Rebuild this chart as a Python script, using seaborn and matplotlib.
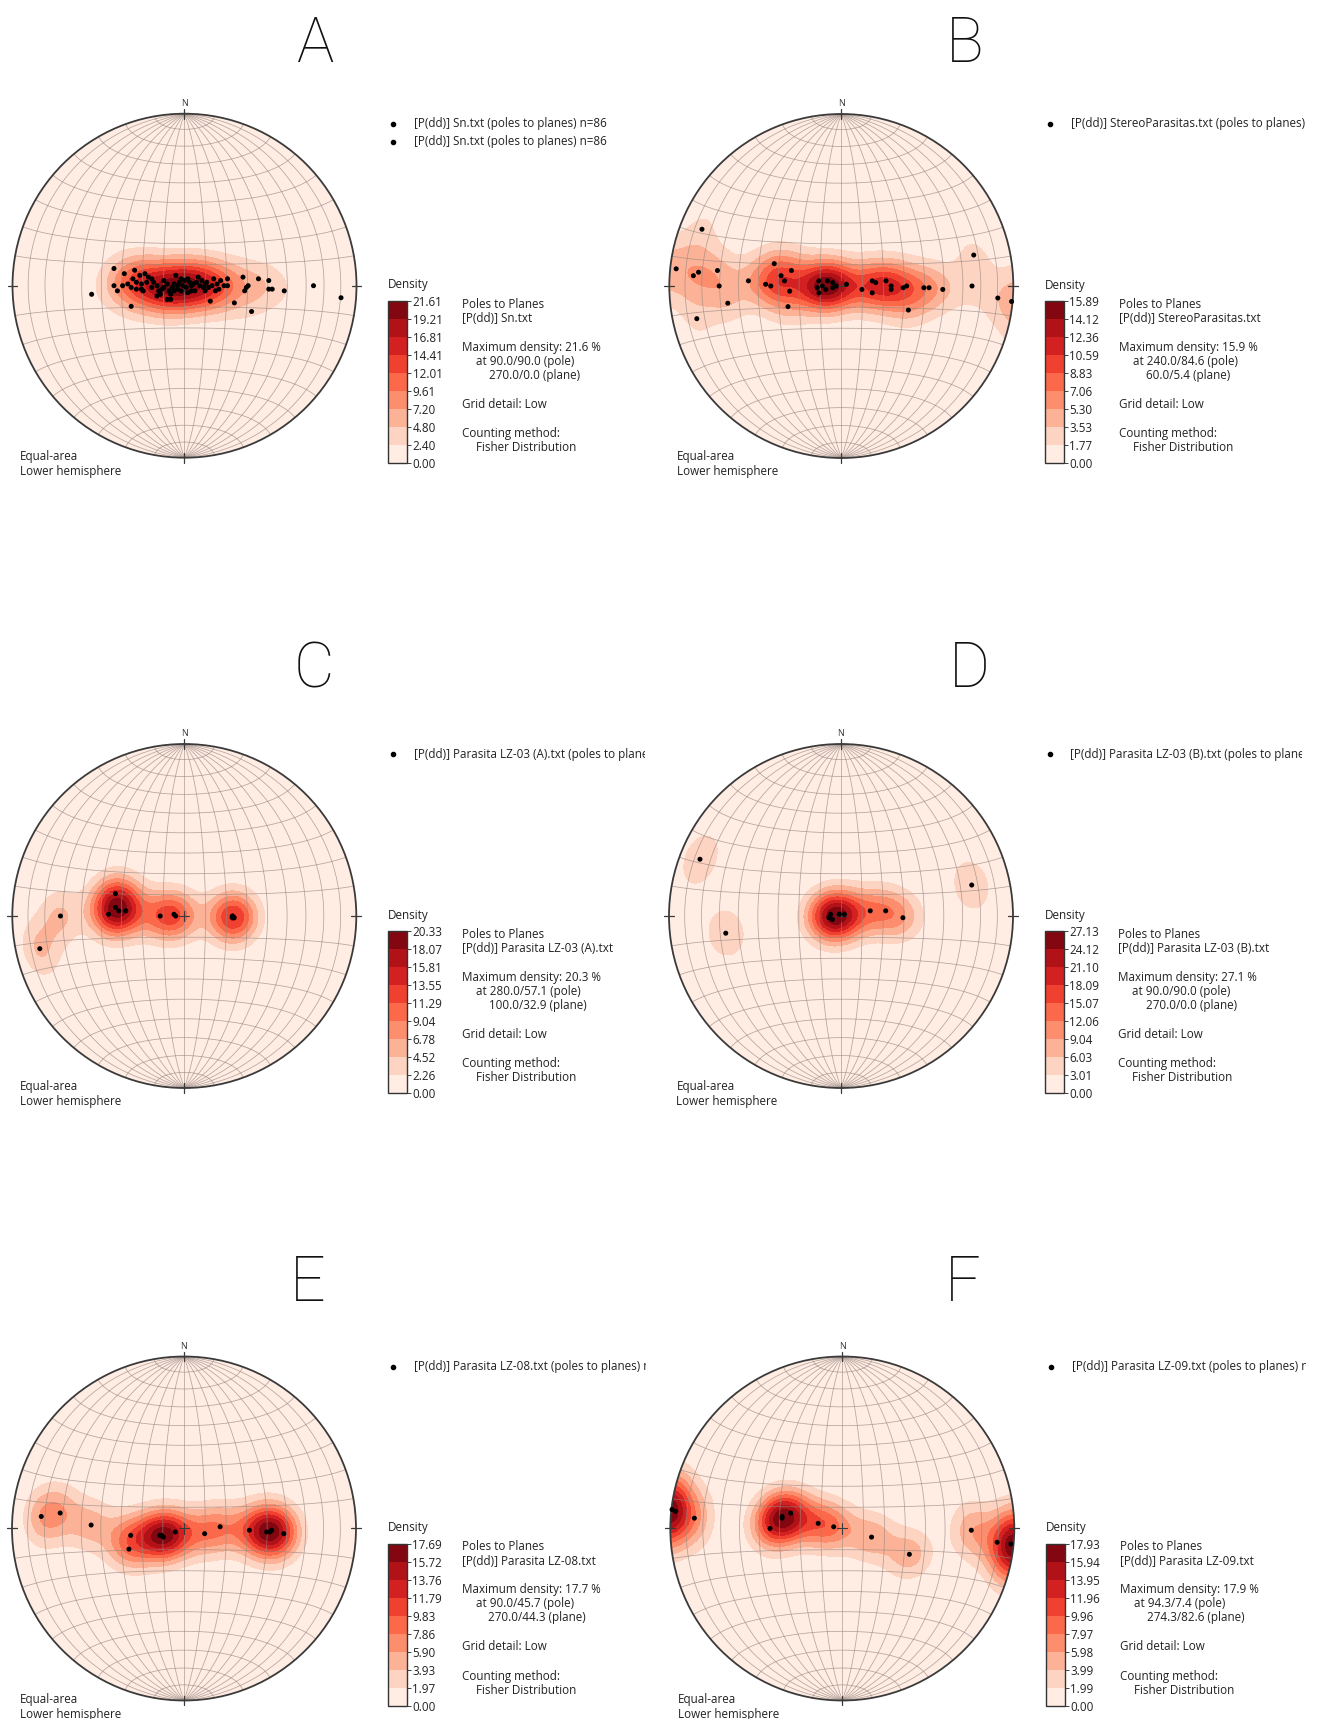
import numpy as np
import matplotlib
matplotlib.use("Agg")
import matplotlib.pyplot as plt
from matplotlib.patches import Circle
from matplotlib.lines import Line2D
from matplotlib.transforms import Bbox, TransformedBbox
import seaborn as sns
import pandas as pd

sns.set_theme(style="white")
plt.rcParams['font.family'] = ['Open Sans', 'DejaVu Sans']

W, H = 1318, 1719

# ---------------- data: projected pole positions (equal-area net, radius units) ----------------
a_east = [-0.41, -0.54, -0.31, -0.41, -0.39, -0.35, -0.36, -0.33, -0.31, -0.29, -0.30, -0.28, -0.25, -0.25,
          -0.23, -0.21, -0.19, -0.19, -0.16, -0.15, -0.13, -0.12, -0.10, -0.08, -0.09, -0.07, -0.06, -0.05,
          -0.04, -0.03, -0.02, 0.00, 0.01, 0.02, 0.03, 0.04, 0.06, 0.07, 0.08, 0.09, 0.11, 0.12, 0.14, 0.15,
          0.17, 0.18, 0.20, 0.21, 0.23, 0.25, 0.25, 0.29, 0.34, 0.35, 0.36, 0.37, 0.39, 0.43, 0.49, 0.49,
          0.51, 0.58, 0.75, 0.91, -0.28, -0.26, -0.24, -0.22, -0.18, -0.16, -0.14, -0.12, -0.10, -0.08,
          -0.06, -0.04, -0.02, -0.01, 0.02, 0.04, 0.05, 0.10, 0.12, 0.13, 0.16, 0.19]
a_north = [0.10, -0.05, -0.12, 0.00, -0.03, 0.07, 0.00, 0.01, -0.01, 0.09, 0.04, 0.02, -0.02, 0.01,
           0.07, 0.05, 0.04, -0.01, -0.06, -0.03, -0.02, 0.03, -0.08, -0.08, -0.03, -0.01, -0.03, 0.06,
           0.00, 0.02, -0.03, 0.03, -0.01, -0.04, 0.02, 0.00, -0.03, 0.02, 0.05, 0.00, -0.01, 0.01, -0.01, -0.09,
           0.04, -0.03, -0.02, 0.03, 0.00, 0.04, 0.00, -0.10, 0.05, -0.03, -0.01, 0.00, -0.15, 0.04, -0.02, 0.03,
           -0.02, -0.03, 0.00, -0.07, -0.02, 0.06, -0.03, 0.02, 0.02, 0.00, -0.05, -0.01, 0.01, -0.05,
           0.01, -0.02, 0.04, 0.00, 0.04, -0.03, 0.01, 0.03, -0.03, 0.02, 0.00, 0.01]

b_east = [-0.81, -0.96, -0.86, -0.83, -0.72, -0.71, -0.66, -0.84, -0.54, -0.44, -0.41, -0.39, -0.35, -0.33,
          -0.29, -0.30, -0.31, -0.14, -0.13, -0.13, -0.11, -0.09, -0.05, -0.05, 0.03, 0.12, 0.18, 0.18,
          0.20, 0.26, 0.29, 0.29, 0.36, 0.38, 0.39, 0.48, 0.51, 0.59, 0.76, 0.77, 0.91, 0.99, -0.08, -0.03]
b_north = [0.33, 0.10, 0.06, 0.08, 0.09, 0.00, -0.10, -0.19, 0.03, 0.01, 0.00, 0.13, 0.06, 0.03,
           0.09, -0.03, -0.12, -0.01, -0.04, 0.03, 0.00, -0.02, 0.02, -0.01, 0.01, -0.02, 0.03, -0.04,
           0.02, 0.03, 0.00, -0.02, -0.01, 0.00, -0.14, -0.01, -0.01, -0.02, 0.00, 0.18, -0.07, -0.09, 0.03, 0.00]

c_east = [-0.84, -0.72, -0.40, -0.44, -0.40, -0.38, -0.34, -0.14, -0.05, -0.06, 0.28, 0.29, 0.28]
c_north = [-0.19, 0.00, 0.13, 0.01, 0.05, 0.03, 0.03, 0.00, 0.00, 0.01, 0.00, -0.01, -0.01]

d_east = [-0.82, -0.67, -0.07, -0.06, -0.05, -0.01, 0.02, 0.17, 0.26, 0.36, 0.76]
d_north = [0.33, -0.10, -0.01, 0.01, -0.02, 0.01, 0.01, 0.03, 0.03, -0.01, 0.18]

e_east = [-0.83, -0.72, -0.54, -0.31, -0.32, -0.13, -0.12, -0.14, -0.05, 0.12, 0.21, 0.38, 0.48, 0.50, 0.51, 0.58]
e_north = [0.07, 0.09, 0.02, -0.04, -0.12, -0.04, -0.05, -0.04, -0.02, -0.03, 0.01, -0.01, -0.02, -0.02, -0.01, -0.03]

f_east = [-0.97, -0.99, -0.86, -0.42, -0.35, -0.35, -0.30, -0.14, -0.05, 0.17, 0.39, 0.75, 0.90, 0.98]
f_north = [0.10, 0.11, 0.06, 0.00, 0.06, 0.07, 0.09, 0.03, 0.01, -0.05, -0.15, -0.01, -0.08, -0.09]

letters = ["A", "B", "C", "D", "E", "F"]
files = ["Sn.txt", "StereoParasitas.txt", "Parasita LZ-03 (A).txt", "Parasita LZ-03 (B).txt",
         "Parasita LZ-08.txt", "Parasita LZ-09.txt"]
legend_suffix = [" n=86", "", " n=13", " n=11", " n=16", " n=14"]
max_density = [21.613, 15.89, 20.33, 27.13, 17.69, 17.934]
max_pct = ["21.6", "15.9", "20.3", "27.1", "17.7", "17.9"]
max_pole = ["90.0/90.0", "240.0/84.6", "280.0/57.1", "90.0/90.0", "90.0/45.7", "94.3/7.4"]
max_plane = ["270.0/0.0", "60.0/5.4", "100.0/32.9", "270.0/0.0", "270.0/44.3", "274.3/82.6"]
easts = [a_east, b_east, c_east, d_east, e_east, f_east]
norths = [a_north, b_north, c_north, d_north, e_north, f_north]

# ---------------- layout (pixels) ----------------
centers = [(184.5, 285.7), (841.3, 286.0), (184.3, 916.0), (841.0, 916.0), (184.0, 1528.5), (842.3, 1528.5)]
title_pos = [(316, 62), (965, 62), (314, 687), (969, 687), (308, 1301), (963, 1301)]
clip_right = [645, 1318, 645, 1302, 646, 1306]
R = 172.0
LIM = 1.05
KAPPA = 50.0
FS = 8.4

fig = plt.figure(figsize=(W / 100, H / 100), dpi=100)
fig.patch.set_facecolor("white")
cmap = sns.color_palette("Reds", as_cmap=True)
grid_color = "#968680"


def fx(px):
    return px / W


def fy(py):
    return 1 - py / H


def to_vec(x, y):
    """inverse lower-hemisphere equal-area (Lambert) projection, unit-radius net"""
    x = np.asarray(x, float)
    y = np.asarray(y, float)
    r = np.sqrt(x ** 2 + y ** 2)
    s = np.where(r > 1, 1 / np.maximum(r, 1e-9), 1.0)
    x = x * s
    y = y * s
    r2 = np.minimum(x ** 2 + y ** 2, 1.0)
    d = 1 - r2
    f = np.sqrt(2 - r2)
    return np.stack([x * f, y * f, d], axis=-1)


def proj(e, n, d):
    return e / np.sqrt(1 + d), n / np.sqrt(1 + d)


def text_fig(px, py, s, **kw):
    kw.setdefault("fontsize", FS)
    kw.setdefault("va", "center")
    kw.setdefault("ha", "left")
    kw.setdefault("color", "#222222")
    return fig.text(fx(px), fy(py), s, **kw)


gx = np.linspace(-LIM, LIM, 321)
GX, GY = np.meshgrid(gx, gx)
G = to_vec(GX, GY).reshape(-1, 3)

for i in range(6):
    cx, cy = centers[i]
    size = 2 * LIM * R
    ax = fig.add_axes([fx(cx - LIM * R), fy(cy + LIM * R), size / W, size / H])
    ax.set_xlim(-LIM, LIM)
    ax.set_ylim(-LIM, LIM)
    ax.set_aspect("equal")
    ax.axis("off")

    df = pd.DataFrame({"east": easts[i], "north": norths[i]})
    P = to_vec(df["east"].values, df["north"].values)
    dots = np.abs(G @ P.T)
    dens = np.exp(KAPPA * (dots - 1)).sum(axis=1).reshape(GX.shape)
    dens = dens / dens.max() * max_density[i]
    levels = np.linspace(0, max_density[i], 10)

    circ = Circle((0, 0), 1, transform=ax.transData, facecolor="none", edgecolor="none")
    ax.add_patch(circ)
    cs = ax.contourf(GX, GY, dens, levels=levels, cmap=cmap, zorder=1)
    cs.set_clip_path(circ)

    # equal-area net grid (10 degree)
    t = np.radians(np.linspace(-90, 90, 361))
    for lam_d in range(-80, 81, 10):
        lam = np.radians(lam_d)
        e = np.cos(t) * np.sin(lam)
        n = np.sin(t)
        d = np.cos(t) * np.cos(lam)
        x, y = proj(e, n, d)
        ax.plot(x, y, color=grid_color, lw=0.55, alpha=0.7, zorder=2)
    for phi_d in range(-80, 81, 10):
        if phi_d == 0:
            continue
        phi = np.radians(phi_d)
        e = np.cos(phi) * np.sin(t)
        n = np.sin(phi) * np.ones_like(t)
        d = np.cos(phi) * np.cos(t)
        x, y = proj(e, n, d)
        ax.plot(x, y, color=grid_color, lw=0.55, alpha=0.7, zorder=2)

    # outline, ticks, centre cross
    ax.add_patch(Circle((0, 0), 1, facecolor="none", edgecolor="#3a3a3a", lw=1.3, zorder=4))
    tk = 0.028
    ax.plot([-1 - tk, -1 + tk], [0, 0], color="#3a3a3a", lw=0.9, zorder=4, clip_on=False)
    ax.plot([1 - tk, 1 + tk], [0, 0], color="#3a3a3a", lw=0.9, zorder=4, clip_on=False)
    ax.plot([0, 0], [1 - tk, 1 + tk], color="#3a3a3a", lw=0.9, zorder=4, clip_on=False)
    ax.plot([0, 0], [-1 - tk, -1 + tk], color="#3a3a3a", lw=0.9, zorder=4, clip_on=False)
    ax.plot([-0.03, 0.03], [0, 0], color="#3a3a3a", lw=0.8, zorder=4)
    ax.plot([0, 0], [-0.03, 0.03], color="#3a3a3a", lw=0.8, zorder=4)
    ax.text(0, 1 + tk + 0.005, "N", ha="center", va="bottom", fontsize=6.5, color="#333333", clip_on=False)

    sns.scatterplot(data=df, x="east", y="north", ax=ax, color="black", s=13,
                    edgecolor="none", legend=False, zorder=5)
    ax.set_xlabel("")
    ax.set_ylabel("")

    # colorbar
    cax = fig.add_axes([fx(cx + 203.5), fy(cy + 177), 19 / W, 162 / H])
    cb = fig.colorbar(cs, cax=cax, ticks=levels)
    cb.ax.set_yticklabels([f"{v:.2f}" for v in levels])
    cb.ax.tick_params(labelsize=FS, length=3, width=0.6, pad=1, colors="#222222")
    cb.outline.set_edgecolor("#333333")
    cb.outline.set_linewidth(1.0)
    text_fig(cx + 203.5, cy - 1, "Density")

    # info block
    bx = cx + 277.5
    by = cy + 18.3
    lines = [(0, 0, "Poles to Planes"),
             (0, 14.5, f"[P(dd)] {files[i]}"),
             (0, 43, f"Maximum density: {max_pct[i]} %"),
             (14, 57, f"at {max_pole[i]} (pole)"),
             (27, 71, f"{max_plane[i]} (plane)"),
             (0, 100, "Grid detail: Low"),
             (0, 129.5, "Counting method:"),
             (14, 143.5, "Fisher Distribution")]
    for dx, dy, s in lines:
        text_fig(bx + dx, by + dy, s)

    # legend
    nleg = 2 if i == 0 else 1
    clipbox = TransformedBbox(Bbox([[0, 0], [fx(clip_right[i]), 1]]), fig.transFigure)
    for j in range(nleg):
        ly = cy - 162 + 18 * j
        fig.add_artist(Line2D([fx(cx + 208.5)], [fy(ly)], marker="o", markersize=3.0,
                              color="black", transform=fig.transFigure))
        t_ = text_fig(cx + 229.5, ly, f"[P(dd)] {files[i]} (poles to planes){legend_suffix[i]}",
                      clip_on=True)
        t_.set_clip_box(clipbox)

    text_fig(cx - 164.5, cy + 170.5, "Equal-area")
    text_fig(cx - 164.5, cy + 185.5, "Lower hemisphere")

    tx, ty = title_pos[i]
    fig.text(fx(tx), fy(ty), letters[i], fontsize=45, ha="center", va="baseline",
             family=["Roboto", "Open Sans", "DejaVu Sans"], fontweight="light", color="#111111")

fig.savefig("out.png", dpi=100, facecolor="white")
